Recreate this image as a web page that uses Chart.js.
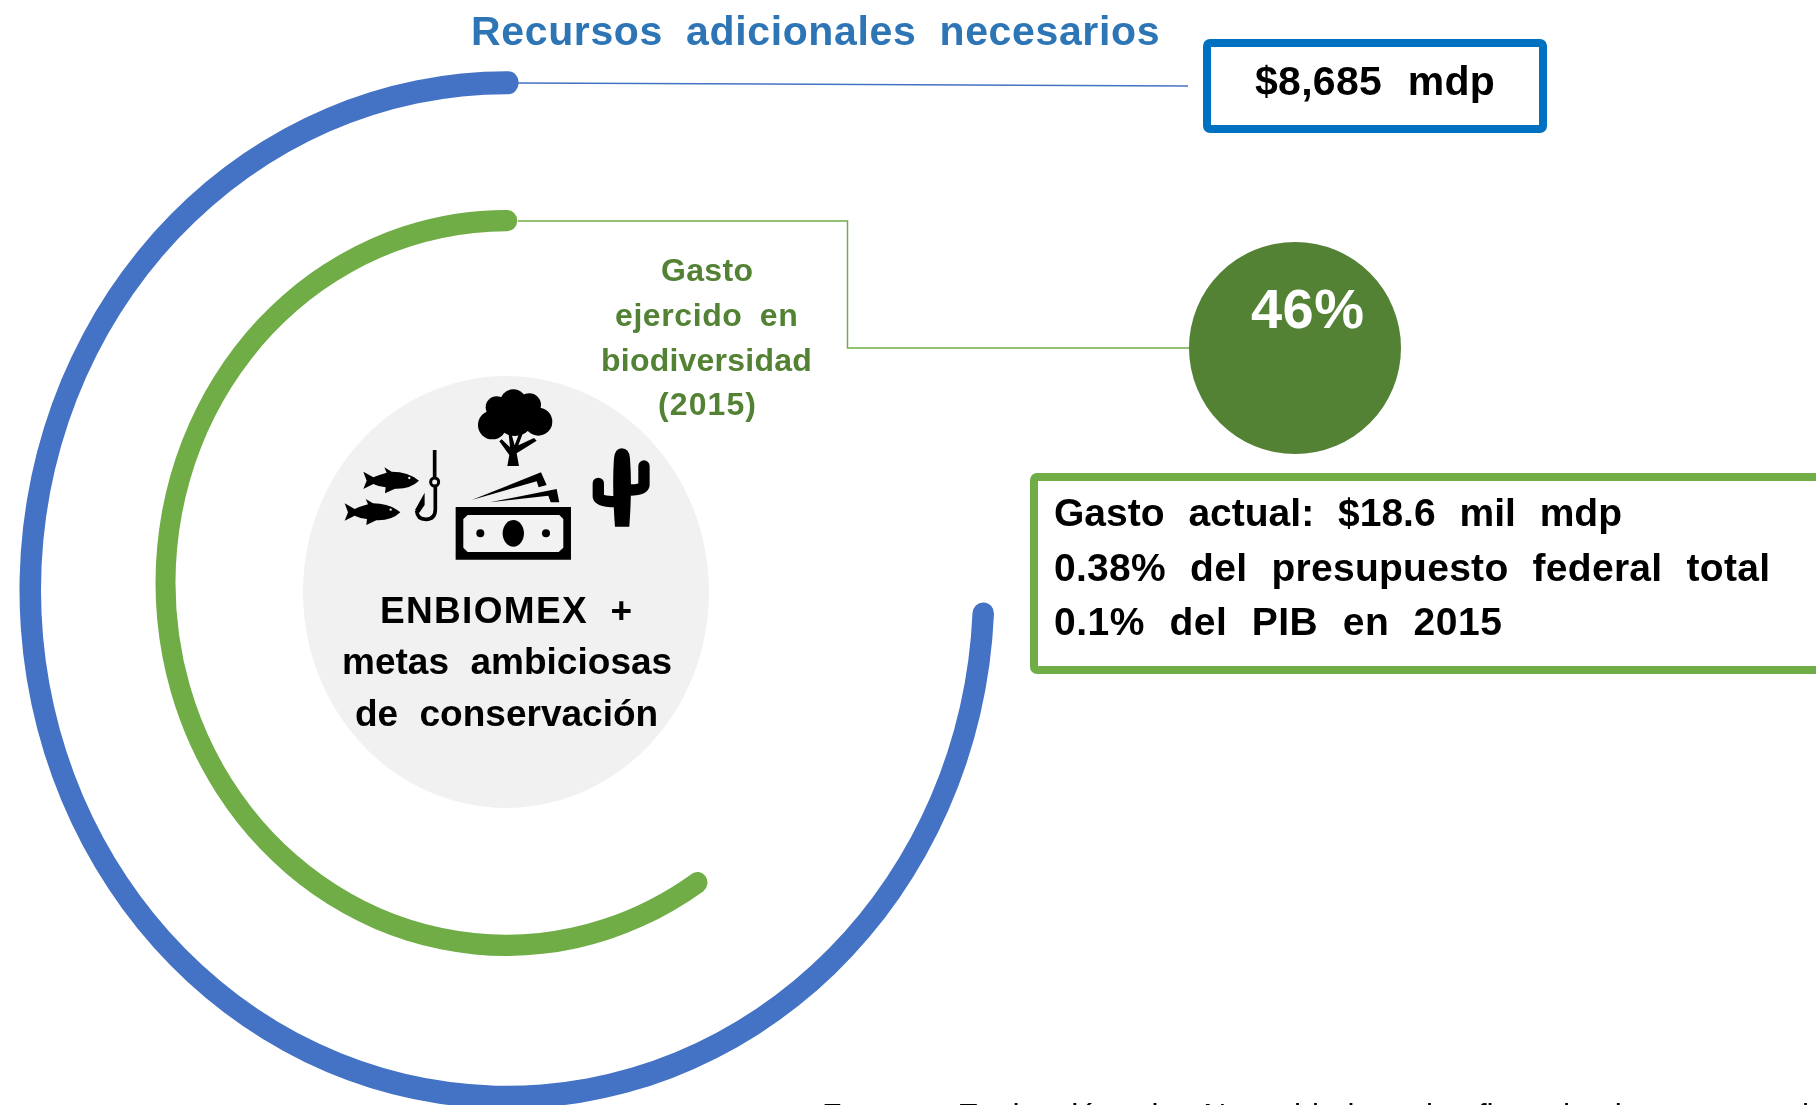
<!DOCTYPE html>
<html>
<head>
<meta charset="utf-8">
<title>Recursos adicionales necesarios</title>
<script src="https://cdn.jsdelivr.net/npm/chart.js@4"></script>
<style>
html, body { margin: 0; padding: 0; background: #fff; }
#page { position: relative; width: 1816px; height: 1105px; overflow: hidden; }
canvas { position: absolute; }
svg { position: absolute; left: 0; top: 0; }
text { font-family: "Liberation Sans", Arial, sans-serif; font-weight: bold; white-space: pre; }
</style>
</head>
<body>
<div id="page">
  <canvas id="ringBlue" width="1000" height="1100" style="left:7px;top:40px"></canvas>
  <canvas id="ringGreen" width="720" height="800" style="left:146px;top:183px"></canvas>
  <canvas id="disc" width="420" height="460" style="left:296px;top:362px"></canvas>
  <svg id="notes" width="1816" height="1105" xmlns="http://www.w3.org/2000/svg">
    <!-- connectors -->
    <path d="M518 83 L1188 86" fill="none" stroke="#4472C4" stroke-width="1.5"/>
    <path d="M518 221 H847.5 V348 H1190" fill="none" stroke="#70AD47" stroke-width="1.5"/>
    <!-- boxes and circle -->
    <rect x="1207" y="43" width="336" height="86" rx="3" fill="#fff" stroke="#0070C0" stroke-width="8"/>
    <rect x="1034" y="477" width="900" height="193" rx="3" fill="#fff" stroke="#70AD47" stroke-width="8"/>
    <circle cx="1295" cy="348" r="106" fill="#548235"/>
    <!-- icons, drawn in zoomed coordinates -->
    <g transform="translate(320,370) scale(0.3333)" fill="#000">
      <g id="tree">
        <circle cx="580" cy="98" r="40"/><circle cx="530" cy="112" r="33"/><circle cx="628" cy="105" r="35"/>
        <circle cx="517" cy="165" r="43"/><circle cx="655" cy="155" r="42"/><circle cx="585" cy="140" r="58"/>
        <path d="M562 288 L597 288 L590 250 L650 212 L642 204 L595 226 L610 186 L600 184 L584 226 L574 190 L566 192 L570 232 L545 208 L538 214 L568 255 Z"/>
      </g>
      <path d="M297 332 Q265 305 215 305 L193 292 L200 308 Q175 315 160 322 L130 305 L140 332 L130 357 L160 342 Q175 350 197 352 L195 370 L225 356 Q270 358 297 332Z"/>
      <circle cx="268" cy="324" r="3.5" fill="#F2F2F2"/>
      <path d="M297 332 Q265 305 215 305 L193 292 L200 308 Q175 315 160 322 L130 305 L140 332 L130 357 L160 342 Q175 350 197 352 L195 370 L225 356 Q270 358 297 332Z" transform="translate(-56,95)"/>
      <circle cx="212" cy="419" r="3.5" fill="#F2F2F2"/>
      <path d="M344 240 V325 M346 348 V418 Q346 448 318 448 Q292 448 290 422" fill="none" stroke="#000" stroke-width="11"/>
      <circle cx="344" cy="336" r="12" fill="none" stroke="#000" stroke-width="9"/>
      <path d="M285 420 L314 368 L314 405 L298 428 Z"/>
      <path d="M407 411 H753 V569 H407 Z"/>
      <path d="M443 435 H718 L730 447 V533 L716 546 H443 L430 533 V447 Z" fill="#F2F2F2"/>
      <ellipse cx="580" cy="490" rx="32" ry="40"/>
      <circle cx="481" cy="490" r="12"/><circle cx="678" cy="490" r="12"/>
      <path d="M455 390 L663 307 L680 345 L656 352 L650 334 Z"/>
      <path d="M510 397 L710 357 L718 397 L692 397 L685 377 Z"/>
      <path d="M885 470 Q876 350 882 265 Q885 235 905 235 Q928 235 930 265 Q937 350 928 470 Z"/>
      <path d="M835 340 V380 Q838 395 885 395 M972 288 V345 Q970 360 930 360" fill="none" stroke="#000" stroke-width="34" stroke-linecap="round"/>
    </g>
  </svg>
</div>
<script>
// ring shares (percent of a full turn)
var ringLabels = ['Resto', 'Recursos adicionales necesarios'];
var blueValues = [25, 75];
var greenLabels = ['Resto', 'Gasto ejercido en biodiversidad (2015)'];
var greenValues = [39.5, 60.5];
var discLabels = ['ENBIOMEX + metas ambiciosas de conservación'];
var discValues = [100];

var blueColors = ['rgba(0,0,0,0)', '#4472C4'];
var greenColors = ['rgba(0,0,0,0)', '#70AD47'];
var discColors = ['#F1F1F1'];

// the reference is a little taller than wide, so the rings are squeezed into an ellipse
var stretchY = 1.064;
var stretch = {
    id: 'stretch',
    beforeDatasetsDraw: function (chart) {
        var ctx = chart.ctx, cy = (chart.chartArea.top + chart.chartArea.bottom) / 2;
        ctx.save();
        ctx.translate(0, cy);
        ctx.scale(1, stretchY);
        ctx.translate(0, -cy);
    },
    afterDatasetsDraw: function (chart) {
        chart.ctx.restore();
    }
};

function renderRing(id, labels, values, colors, radius, inner, rotation, corner) {
    return new Chart(document.getElementById(id).getContext('2d'), {
        type: 'doughnut',
        data: {
            labels: labels,
            datasets: [{
                data: values,
                backgroundColor: colors,
                borderWidth: 0,
                borderRadius: corner
            }]
        },
        options: {
            responsive: false,
            animation: false,
            radius: radius,
            cutout: (inner / radius * 100) + '%',
            rotation: rotation,
            plugins: {
                legend: { display: false },
                tooltip: { enabled: false }
            }
        },
        plugins: [stretch]
    });
}

renderRing('ringBlue', ringLabels, blueValues, blueColors, 487.5, 466, 1.4, 10.5);
renderRing('ringGreen', greenLabels, greenValues, greenColors, 350.5, 330.5, 1.9, 10);
renderRing('disc', discLabels, discValues, discColors, 203, 0, 0, 0);

// text lines: words, left, right, baseline, font size, colour, letter spacing, word spacing
var textLines = [
    ['Recursos adicionales necesarios', 471, 1160, 45, 41, '#2E75B6', 0.5, 11],
    ['$8,685 mdp', 1255, 1495, 95, 41, '#000', 0.2, 14],
    ['46%', 1251, 1364, 328, 56, '#fff', 0, 0],
    ['Gasto', 661, 754, 281, 32, '#548235', 1, 0],
    ['ejercido en', 615, 799, 326, 32, '#548235', 1.2, 8],
    ['biodiversidad', 601, 813, 371, 32, '#548235', 1.2, 0],
    ['(2015)', 658, 757, 415, 32, '#548235', 1, 0],
    ['ENBIOMEX +', 380, 633, 623, 37, '#000', 0.8, 11],
    ['metas ambiciosas', 342, 673, 674, 37, '#000', 0.8, 11],
    ['de conservación', 355, 659, 726, 37, '#000', 0.8, 11],
    ['Gasto actual: $18.6 mil mdp', 1054, 1622, 526, 39, '#000', 0, 13],
    ['0.38% del presupuesto federal total', 1054, 1770, 581, 39, '#000', 0, 13],
    ['0.1% del PIB en 2015', 1054, 1502, 635, 39, '#000', 0, 13]
];

var notes = document.getElementById('notes');
textLines.forEach(function (line) {
    var t = document.createElementNS('http://www.w3.org/2000/svg', 'text');
    t.textContent = line[0];
    t.setAttribute('x', line[1]);
    t.setAttribute('y', line[3]);
    t.setAttribute('font-size', line[4]);
    t.setAttribute('fill', line[5]);
    t.setAttribute('textLength', line[2] - line[1]);
    t.setAttribute('lengthAdjust', 'spacing');
    t.style.letterSpacing = line[6] + 'px';
    t.style.wordSpacing = line[7] + 'px';
    notes.appendChild(t);
});

// source line, cut off by the bottom edge as in the reference
var src = document.createElementNS('http://www.w3.org/2000/svg', 'text');
src.textContent = 'Fuente: Evaluación de Necesidades de financiamiento para implementar';
src.setAttribute('x', 822);
src.setAttribute('y', 1126);
src.setAttribute('font-size', 32);
src.setAttribute('fill', '#000');
src.style.fontWeight = 'normal';
src.style.wordSpacing = '18px';
notes.appendChild(src);
</script>
</body>
</html>
